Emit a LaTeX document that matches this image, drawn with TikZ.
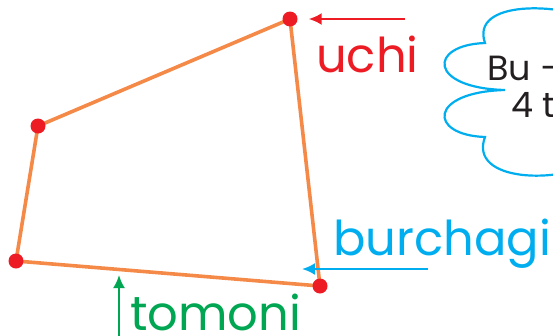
\documentclass[tikz,border=0pt]{standalone}
\usepackage{fontspec}
\setmainfont{Poppins}
\usepackage{xcolor}
\usetikzlibrary{positioning,arrows.meta,calc}

\definecolor{sideorange}{RGB}{245,138,72}
\definecolor{vertred}{RGB}{237,28,36}
\definecolor{angleblue}{RGB}{0,174,239}
\definecolor{sidegreen}{RGB}{0,166,81}
\definecolor{inktext}{RGB}{35,31,32}

\begin{document}
\begin{tikzpicture}[
    x=1pt,y=-1pt,
    dot/.style={circle,fill=vertred,inner sep=0pt,minimum size=15pt},
    side/.style={sideorange,line width=3.6pt,line join=round},
    lbl/.style={anchor=base west,inner sep=0pt,font=\fontsize{48}{52}\selectfont},
    arr/.style={-{Latex[length=13pt,width=12pt]},line width=2.2pt},
    note/.style={anchor=base west,inner sep=0pt,text=inktext,font=\fontsize{35}{39}\selectfont}
]
\useasboundingbox (0,0) rectangle (553,335);

% quadrilateral
\coordinate (pA) at (290,19);
\coordinate (pB) at (38,126);
\coordinate (pC) at (16,261);
\coordinate (pD) at (320,286);
\draw[side] (pA) -- (pB) -- (pC) -- (pD) -- cycle;
\node[dot] (A) at (pA) {};
\node[dot] (B) at (pB) {};
\node[dot] (C) at (pC) {};
\node[dot] (D) at (pD) {};

% vertex
\coordinate (uchistart) at (405,19);
\draw[arr,vertred,shorten >=11pt] (uchistart) -- (A);
\node[lbl,text=vertred] (uchi) at (316,72) {uchi};

% angle
\coordinate (burchstart) at (428,269);
\coordinate (burchtip) at (302,269);
\draw[arr,angleblue] (burchstart) -- (burchtip);
\node[lbl,text=angleblue] (burchagi) at (333,255) {burchagi};

% side
\coordinate (tomstart) at (119,340);
\coordinate (tomtip) at (119,275);
\draw[arr,sidegreen] (tomstart) -- (tomtip);
\node[lbl,text=sidegreen] (tomoni) at (130,330) {tomoni};

% cloud (cut off at the right edge)
\draw[angleblue,line width=2.2pt]
  (600,22) .. controls (560,2) and (470,0) .. (485,43)
  .. controls (428,45) and (428,88) .. (505,90)
  .. controls (428,92) and (428,135) .. (485,137)
  .. controls (468,182) and (560,185) .. (600,160);
\node[note] (line1) at (487,80) {Bu –};
\node[note] (line2) at (511,117) {4 t};
\end{tikzpicture}
\end{document}
